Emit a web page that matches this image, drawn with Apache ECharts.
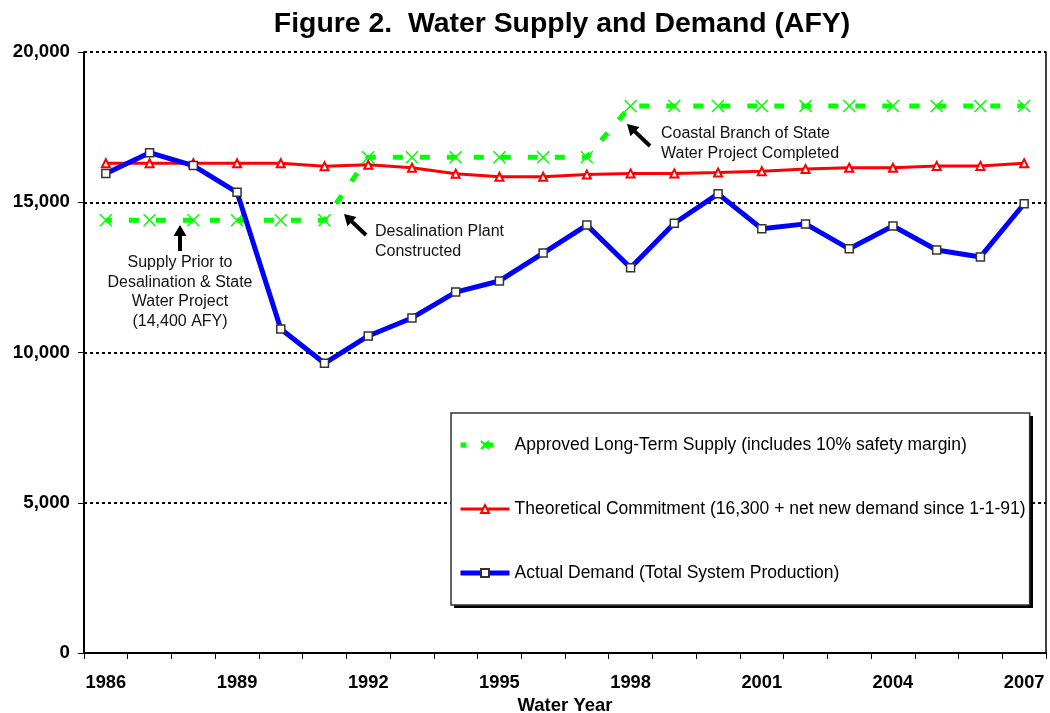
<!DOCTYPE html>
<html>
<head>
<meta charset="utf-8">
<title>Figure 2. Water Supply and Demand (AFY)</title>
<script src="https://cdn.jsdelivr.net/npm/echarts@6/dist/echarts.min.js"></script>
<style>
  html, body { margin: 0; padding: 0; background: #fff; }
  #chart { width: 1050px; height: 713px; }
</style>
</head>
<body>
<div id="chart"></div>
<script>
  var years = ['1986', '1987', '1988', '1989', '1990', '1991', '1992', '1993', '1994', '1995', '1996',
    '1997', '1998', '1999', '2000', '2001', '2002', '2003', '2004', '2005', '2006', '2007'];
  // Approved Long-Term Supply (AFY)
  var supply = [14400, 14400, 14400, 14400, 14400, 14400, 16500, 16500, 16500, 16500, 16500,
    16500, 18200, 18200, 18200, 18200, 18200, 18200, 18200, 18200, 18200, 18200];
  // Theoretical Commitment
  var commitment = [16300, 16300, 16300, 16300, 16300, 16200, 16250, 16150, 15950, 15850, 15850,
    15920, 15960, 15960, 15990, 16030, 16110, 16150, 16150, 16210, 16210, 16300];
  // Actual Demand (Total System Production)
  var demand = [15960, 16650, 16220, 15330, 10780, 9640, 10550, 11150, 12010, 12380, 13310,
    14240, 12820, 14300, 15280, 14120, 14280, 13450, 14210, 13410, 13180, 14950];
  var yTicks = [0, 5000, 10000, 15000, 20000];

  var seriesNames = [
    'Approved Long-Term Supply (includes 10% safety margin)',
    'Theoretical Commitment (16,300 + net new demand since 1-1-91)',
    'Actual Demand (Total System Production)'
  ];

  var font = '"Liberation Sans", Arial, Helvetica, sans-serif';

  function withComma(v) {
    return String(v).replace(/\B(?=(\d{3})+(?!\d))/g, ',');
  }

  // block arrow from tail (tx,ty) to tip (hx,hy)
  function arrowPoints(tx, ty, hx, hy) {
    var dx = hx - tx, dy = hy - ty;
    var len = Math.sqrt(dx * dx + dy * dy);
    var ux = dx / len, uy = dy / len, px = -uy, py = ux;
    var head = 11, hw = 6.5, sw = 2;
    var bx = hx - ux * head, by = hy - uy * head;
    return [
      [tx + px * sw, ty + py * sw], [bx + px * sw, by + py * sw], [bx + px * hw, by + py * hw],
      [hx, hy],
      [bx - px * hw, by - py * hw], [bx - px * sw, by - py * sw], [tx - px * sw, ty - py * sw]
    ];
  }

  function note(x, y, text, align) {
    return {
      type: 'text', x: x, y: y, z: 20,
      style: { text: text, fill: '#111', font: '16px ' + font, align: align, verticalAlign: 'top', lineHeight: 19.5 }
    };
  }

  function arrow(tx, ty, hx, hy) {
    return { type: 'polygon', z: 20, shape: { points: arrowPoints(tx, ty, hx, hy) }, style: { fill: '#000' } };
  }

  var chart = echarts.init(document.getElementById('chart'));
  var option = {
    backgroundColor: '#fff',
    animation: false,
    title: {
      text: 'Figure 2.  Water Supply and Demand (AFY)',
      left: 557,
      top: 5,
      textAlign: 'center',
      textStyle: { fontSize: 28.4, fontWeight: 'bold', color: '#000', fontFamily: font }
    },
    grid: { left: 84, right: 4, top: 52, bottom: 60, outerBoundsMode: 'none', containLabel: false },
    legend: {
      data: seriesNames,
      orient: 'vertical',
      left: 451,
      top: 413,
      itemWidth: 49,
      itemHeight: 10,
      itemGap: 46,
      padding: [23, 4, 23, 7],
      backgroundColor: '#fff',
      borderColor: '#333',
      borderWidth: 1.5,
      lineStyle: { width: 'inherit' },
      textStyle: { fontSize: 17.5, color: '#000', fontFamily: font, lineHeight: 18 }
    },
    xAxis: {
      type: 'category',
      data: years,
      boundaryGap: true,
      name: 'Water Year',
      nameLocation: 'middle',
      nameGap: 42,
      nameTextStyle: { fontSize: 18.5, fontWeight: 'bold', color: '#000', fontFamily: font },
      axisLine: { lineStyle: { color: '#000', width: 2 } },
      axisTick: { show: true, interval: 0, length: 6, lineStyle: { color: '#000', width: 1 } },
      axisLabel: { interval: 2, fontSize: 18.3, fontWeight: 'bold', color: '#000', fontFamily: font, margin: 21 },
      splitLine: { show: false }
    },
    yAxis: [{
      type: 'value',
      min: yTicks[0],
      max: yTicks[yTicks.length - 1],
      interval: yTicks[1] - yTicks[0],
      axisLine: { show: true, lineStyle: { color: '#000', width: 2 } },
      axisTick: { show: true, length: 6, lineStyle: { color: '#000', width: 1 } },
      axisLabel: { fontSize: 18.7, fontWeight: 'bold', color: '#000', fontFamily: font, margin: 14, formatter: withComma },
      splitLine: { show: true, lineStyle: { color: '#000', width: 2, type: [3, 3] } }
    }, {
      type: 'value',
      position: 'right',
      min: yTicks[0],
      max: yTicks[yTicks.length - 1],
      axisLine: { show: true, lineStyle: { color: '#000', width: 1.5 } },
      axisTick: { show: false },
      axisLabel: { show: false },
      splitLine: { show: false }
    }],
    series: [{
      name: seriesNames[0],
      type: 'line',
      data: supply,
      symbol: 'path://M0 0L10 10M10 0L0 10',
      symbolSize: 12,
      itemStyle: { color: 'rgba(0,0,0,0)', borderColor: '#00ff00', borderWidth: 1.5 },
      lineStyle: { color: '#00ff00', width: 5, type: [10, 17], dashOffset: 4 },
      z: 3
    }, {
      name: seriesNames[1],
      type: 'line',
      data: commitment,
      symbol: 'emptyTriangle',
      symbolSize: 8,
      itemStyle: { color: '#ff0000', borderWidth: 1.5 },
      lineStyle: { color: '#ff0000', width: 3 },
      z: 4
    }, {
      name: seriesNames[2],
      type: 'line',
      data: demand,
      symbol: 'rect',
      symbolSize: 8,
      itemStyle: { color: '#fff', borderColor: '#333', borderWidth: 1.5 },
      lineStyle: { color: '#0000ff', width: 5 },
      z: 5
    }],
    graphic: [
      // legend drop shadow
      { type: 'rect', z: 3, shape: { x: 454, y: 416, width: 579, height: 192 }, style: { fill: '#000' } },
      arrow(180, 251, 180, 225),
      note(180, 253, 'Supply Prior to\nDesalination & State\nWater Project\n(14,400 AFY)', 'center'),
      arrow(366, 235, 344, 214),
      note(375, 222, 'Desalination Plant\nConstructed', 'left'),
      arrow(650, 146, 627, 124),
      note(661, 124, 'Coastal Branch of State\nWater Project Completed', 'left')
    ]
  };
  chart.setOption(option);
</script>
</body>
</html>
